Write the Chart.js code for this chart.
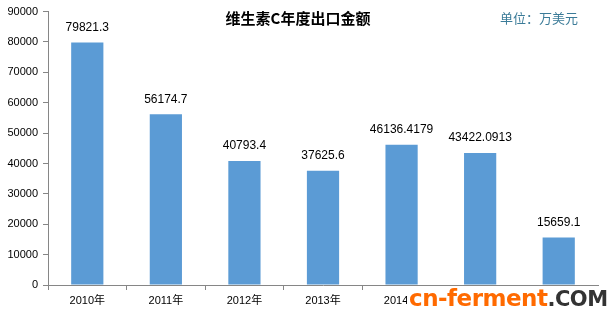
<!DOCTYPE html>
<html lang="zh">
<head>
    <meta charset="UTF-8">
    <title>维生素C年度出口金额</title>
    <script src="https://cdn.jsdelivr.net/npm/chart.js"></script>
    <style>
        html, body {
            margin: 0;
            padding: 0;
            background: #ffffff;
        }
        #wrap {
            position: relative;
            width: 615px;
            height: 322px;
        }
        #mark {
            position: absolute;
            left: 407px;
            top: 286px;
            height: 24px;
            line-height: 24px;
            padding: 0 2px;
            background: #ffffff;
            font-family: "DejaVu Sans", sans-serif;
            font-weight: bold;
            font-size: 23px;
            letter-spacing: -0.5px;
            white-space: nowrap;
        }
        #mark .a { color: #ff6a00; }
        #mark .b { color: #333333; font-size: 21px; }
    </style>
</head>
<body>
<div id="wrap">
    <canvas id="chart" width="615" height="322"></canvas>
    <div id="mark"><span class="a">cn-ferment</span><span class="b">.COM</span></div>
</div>
<script>
    const years = ['2010年', '2011年', '2012年', '2013年', '2014年', '2015年', '2016年'];
    const amounts = [79821.3, 56174.7, 40793.4, 37625.6, 46136.4179, 43422.0913, 15659.1];
    const valueLabels = ['79821.3', '56174.7', '40793.4', '37625.6', '46136.4179', '43422.0913', '15659.1'];

    const latinFont = '"Liberation Sans", "Noto Sans CJK SC", sans-serif';

    // title, unit note and value labels drawn on the canvas
    const extras = {
        id: 'extras',
        afterDatasetsDraw(chart) {
            const ctx = chart.ctx;
            const meta = chart.getDatasetMeta(0);
            ctx.save();
            ctx.fillStyle = '#000000';
            ctx.font = '12px ' + latinFont;
            ctx.textAlign = 'center';
            ctx.textBaseline = 'bottom';
            meta.data.forEach((bar, i) => {
                ctx.fillText(valueLabels[i], bar.x, bar.y - 9);
            });

            ctx.font = 'bold 15px "Noto Sans CJK SC", sans-serif';
            ctx.textBaseline = 'middle';
            ctx.fillText('维生素C年度出口金额', 298, 18);

            ctx.font = '13px "Noto Sans CJK SC", sans-serif';
            ctx.fillStyle = '#3b7b98';
            ctx.textAlign = 'left';
            ctx.fillText('单位：万美元', 500, 18);
            ctx.restore();
        }
    };

    new Chart(document.getElementById('chart'), {
        type: 'bar',
        data: {
            labels: years,
            datasets: [{
                data: amounts,
                backgroundColor: '#5b9bd5',
                barPercentage: 0.41,
                categoryPercentage: 1.0
            }]
        },
        options: {
            responsive: false,
            animation: false,
            layout: { padding: { top: 8, right: 17, left: 0, bottom: 0 } },
            plugins: {
                legend: { display: false },
                tooltip: { enabled: false }
            },
            scales: {
                x: {
                    offset: true,
                    grid: {
                        offset: true,
                        drawOnChartArea: false,
                        drawTicks: true,
                        tickLength: 5,
                        color: '#868686'
                    },
                    border: { color: '#868686' },
                    ticks: {
                        color: '#000000',
                        font: { size: 11, family: latinFont },
                        padding: 4,
                        maxRotation: 0
                    },
                    afterFit(axis) { axis.height = 37; }
                },
                y: {
                    min: 0,
                    max: 90000,
                    ticks: {
                        stepSize: 10000,
                        color: '#000000',
                        font: { size: 11, family: latinFont },
                        padding: 5,
                        callback: v => String(v)
                    },
                    grid: {
                        drawOnChartArea: false,
                        drawTicks: true,
                        tickLength: 5,
                        color: '#868686'
                    },
                    border: { color: '#868686' },
                    afterFit(axis) { axis.width = 48; }
                }
            }
        },
        plugins: [extras]
    });
</script>
</body>
</html>
